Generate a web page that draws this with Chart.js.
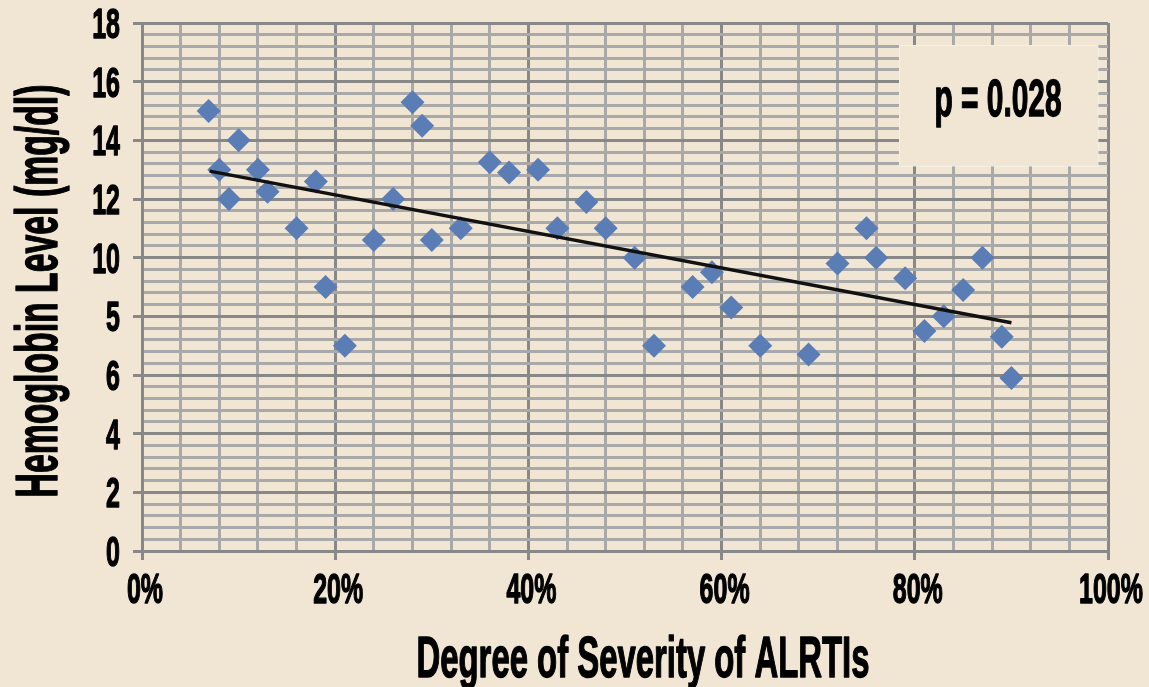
<!DOCTYPE html>
<html>
<head>
<meta charset="utf-8">
<script src="https://cdn.jsdelivr.net/npm/chart.js@4.4.1/dist/chart.umd.min.js"></script>
<style>
  html, body { margin: 0; padding: 0; background: #f1e6d4; }
  #wrap { width: 1149px; height: 687px; }
</style>
</head>
<body>
<div id="wrap"><canvas id="scatterChart" width="1149" height="687"></canvas></div>
<script>
// values
const severity = [6.9, 8, 9, 10, 12, 13, 16, 18, 19, 21, 24, 26, 28, 29, 30, 33, 36, 38, 41, 43, 46, 48, 51, 53,
                  57, 59, 61, 64, 69, 72, 75, 76, 79, 81, 83, 85, 87, 89, 90];
const hemoglobin = [15.0, 13.0, 12.0, 14.0, 13.0, 12.25, 11.0, 12.6, 9.0, 7.0, 10.6, 12.0, 15.3, 14.5, 10.6, 11.0,
                    13.25, 12.9, 13.0, 11.0, 11.9, 11.0, 10.0, 7.0, 9.0, 9.5, 8.3, 7.0, 6.7, 9.8, 11.0, 10.0,
                    9.3, 7.5, 8.0, 8.9, 10.0, 7.3, 5.9];
// trend line end points
const trendX = [7, 90];
const trendY = [12.95, 7.78];

const xTickValues = [0, 20, 40, 60, 80, 100];
const xTickLabels = ['0%', '20%', '40%', '60%', '80%', '100%'];
const yTickValues = [0, 2, 4, 6, 8, 10, 12, 14, 16, 18];
const yTickLabels = ['0', '2', '4', '6', '5', '10', '12', '14', '16', '18'];

const xTitle = 'Degree of Severity of ALRTIs';
const yTitle = 'Hemoglobin Level (mg/dl)';
const pText = 'p = 0.028';

const BG = '#f1e6d4';
const MAJOR = '#888888';
const MINOR = '#a9a9a9';
const FONT = '"Liberation Sans Narrow", "Liberation Sans", Arial, sans-serif';

const points = severity.map((s, i) => ({ x: s, y: hemoglobin[i] }));
const trend = trendX.map((s, i) => ({ x: s, y: trendY[i] }));

function isMajor(v, step) {
  return Math.abs(v / step - Math.round(v / step)) < 1e-6;
}

function narrowText(ctx, text, x, y, font, sx, align, rot) {
  ctx.save();
  ctx.font = font;
  ctx.translate(x, y);
  if (rot) ctx.rotate(rot);
  ctx.scale(sx, 1);
  ctx.textAlign = align;
  ctx.textBaseline = 'alphabetic';
  ctx.fillText(text, 0, 0);
  ctx.strokeText(text, 0, 0);
  ctx.restore();
}

function fitScale(ctx, text, font, width) {
  ctx.save();
  ctx.font = font;
  const w = ctx.measureText(text).width;
  ctx.restore();
  return width / w;
}

// condensed bold labels like the original, placed with the chart's scales
const condensedText = {
  id: 'condensedText',
  afterDraw(chart) {
    const ctx = chart.ctx;
    const xs = chart.scales.x, ys = chart.scales.y;
    ctx.save();
    ctx.fillStyle = '#000';
    ctx.strokeStyle = '#000';
    ctx.lineWidth = 1.4;
    ctx.lineJoin = 'round';

    const tickFont = 'bold 42px ' + FONT;
    const sxTick = fitScale(ctx, '20%', tickFont, 50);

    yTickValues.forEach((v, i) => {
      narrowText(ctx, yTickLabels[i], 120, ys.getPixelForValue(v) + 15, tickFont, sxTick, 'right');
    });
    xTickValues.forEach((v, i) => {
      narrowText(ctx, xTickLabels[i], xs.getPixelForValue(v) + 3, 603, tickFont, sxTick, 'center');
    });

    const xtFont = 'bold 57px ' + FONT;
    narrowText(ctx, xTitle, 643, 677, xtFont, fitScale(ctx, xTitle, xtFont, 453), 'center');

    const ytFont = 'bold 60px ' + FONT;
    narrowText(ctx, yTitle, 57, 291, ytFont, fitScale(ctx, yTitle, ytFont, 413), 'center', -Math.PI / 2);

    // p-value text box
    ctx.fillStyle = BG;
    ctx.fillRect(899, 45, 199, 121);
    ctx.strokeStyle = 'rgba(255,255,255,0.35)';
    ctx.lineWidth = 1;
    ctx.strokeRect(899.5, 45.5, 199, 121);
    ctx.fillStyle = '#000';
    ctx.strokeStyle = '#000';
    ctx.lineWidth = 1.4;
    const pFont = 'bold 51px ' + FONT;
    narrowText(ctx, pText, 998, 116, pFont, fitScale(ctx, pText, pFont, 127), 'center');

    ctx.restore();
  }
};

const ctx = document.getElementById('scatterChart').getContext('2d');
const scatterChart = new Chart(ctx, {
  type: 'scatter',
  data: {
    datasets: [
      {
        label: 'Trend',
        data: trend,
        showLine: true,
        borderColor: '#111',
        borderWidth: 3.5,
        pointRadius: 0,
        pointHoverRadius: 0,
        order: 0
      },
      {
        label: 'Hemoglobin',
        data: points,
        pointStyle: 'rectRot',
        pointRadius: 12,
        pointHoverRadius: 12,
        backgroundColor: 'rgb(90,125,182)',
        borderWidth: 0,
        order: 1
      }
    ]
  },
  options: {
    responsive: false,
    animation: false,
    layout: { padding: { top: 23, right: 41, left: 0, bottom: 0 } },
    plugins: {
      legend: { display: false },
      tooltip: { enabled: false }
    },
    scales: {
      x: {
        type: 'linear',
        min: 0,
        max: 100,
        ticks: { display: false, stepSize: 4, autoSkip: false },
        grid: {
          color: c => isMajor(c.tick.value, 20) ? MAJOR : MINOR,
          lineWidth: 3,
          tickColor: c => isMajor(c.tick.value, 20) ? MAJOR : 'rgba(0,0,0,0)',
          tickWidth: 3,
          tickLength: 9
        },
        border: { color: MAJOR, width: 3 },
        afterFit: s => { s.height = 136; }
      },
      y: {
        min: 0,
        max: 18,
        ticks: { display: false, stepSize: 0.4, autoSkip: false },
        grid: {
          color: c => isMajor(c.tick.value, 2) ? MAJOR : MINOR,
          lineWidth: 3,
          tickColor: c => isMajor(c.tick.value, 2) ? MAJOR : 'rgba(0,0,0,0)',
          tickWidth: 3,
          tickLength: 9
        },
        border: { color: MAJOR, width: 3 },
        afterFit: s => { s.width = 142; }
      }
    }
  },
  plugins: [condensedText]
});
</script>
</body>
</html>
